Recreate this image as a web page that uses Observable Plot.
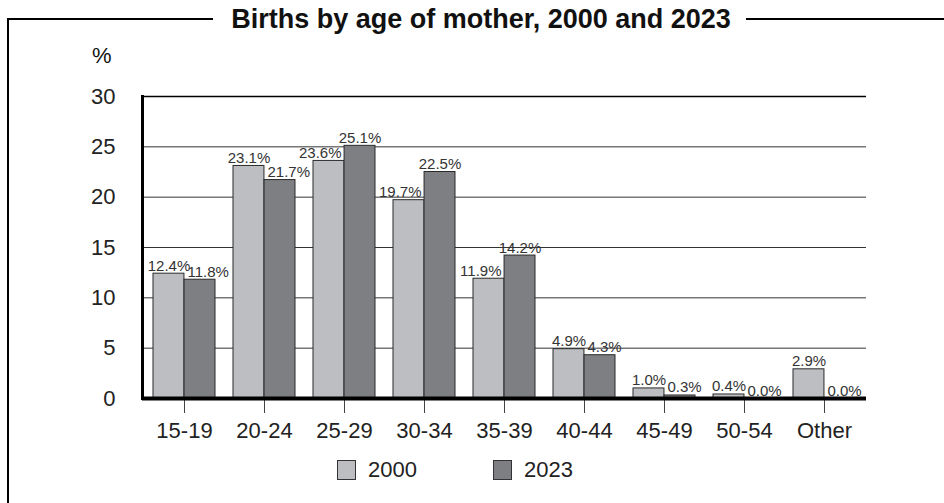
<!DOCTYPE html>
<html>
<head>
<meta charset="utf-8">
<script src="https://cdn.jsdelivr.net/npm/d3@7"></script>
<script src="https://cdn.jsdelivr.net/npm/@observablehq/plot@0.6"></script>
<style>
  html, body { margin: 0; padding: 0; background: #fff; }
  #wrap { position: relative; width: 944px; height: 503px; overflow: hidden; background: #fff;
          font-family: "Liberation Sans", Arial, Helvetica, sans-serif; color: #111; }
  .ln { position: absolute; background: #000; }
  #title { position: absolute; left: 0; width: 962px; top: 6px; text-align: center;
           font-size: 27px; font-weight: bold; line-height: 27px; white-space: nowrap; }
  #pct { position: absolute; left: 92px; top: 45px; font-size: 22px; line-height: 22px; color: #111; }
  #chart { position: absolute; left: 0; top: 0; }
  .leg { position: absolute; top: 460px; height: 20px; display: flex; align-items: center; font-size: 22px; color: #222; }
  .sw { width: 17px; height: 18px; border: 1px solid #333; margin-right: 12px; }
</style>
</head>
<body>
<div id="wrap">
  <div id="chart"></div>
  <div class="ln" style="left:7px; top:18px; width:2px; height:490px;"></div>
  <div class="ln" style="left:7px; top:18px; width:206px; height:2px;"></div>
  <div class="ln" style="left:746px; top:18px; width:200px; height:2px;"></div>
  <div id="title">Births by age of mother, 2000 and 2023</div>
  <div id="pct">%</div>
  <div class="leg" style="left:337px;"><div class="sw" id="sw0"></div><span id="lg0"></span></div>
  <div class="leg" style="left:493px;"><div class="sw" id="sw1"></div><span id="lg1"></span></div>
</div>
<script>
const ages = ["15-19", "20-24", "25-29", "30-34", "35-39", "40-44", "45-49", "50-54", "Other"];
const births2000 = [12.4, 23.1, 23.6, 19.7, 11.9, 4.9, 1.0, 0.4, 2.9];
const births2023 = [11.8, 21.7, 25.1, 22.5, 14.2, 4.3, 0.3, 0.0, 0.0];
const years = ["2000", "2023"];
const yTicks = [0, 5, 10, 15, 20, 25, 30];
const colors = ["#bdbec1", "#7e7f83"];

const W = 944, H = 503, mL = 142, mR = 78, mT = 96, mB = 105;
const pIn = 0.228, pOut = 0.114;
const step = (W - mL - mR) / (ages.length - pIn + 2 * pOut);
const bw = step * (1 - pIn);

const data = [];
ages.forEach((a, i) => {
  const v0 = births2000[i], v1 = births2023[i];
  const hi0 = v0 >= v1;
  data.push({age: a, year: years[0], value: v0, high: hi0});
  data.push({age: a, year: years[1], value: v1, high: !hi0});
});
const fmt = d => d.value.toFixed(1) + "%";
const d0 = data.filter(d => d.year === years[0]);
const d1 = data.filter(d => d.year === years[1]);
const labelOpts = {x: "age", y: "value", text: fmt, lineAnchor: "bottom", dy: -3, fontSize: 15, fill: "#333"};

const chart = Plot.plot({
  width: W, height: H,
  marginLeft: mL, marginRight: mR, marginTop: mT, marginBottom: mB,
  style: {fontFamily: '"Liberation Sans", Arial, Helvetica, sans-serif', background: "transparent", color: "#222"},
  x: {domain: ages, paddingInner: pIn, paddingOuter: pOut, label: null},
  y: {domain: [0, 30], label: null},
  marks: [
    Plot.gridY(yTicks.filter(t => t > 0 && t < 30), {stroke: "#333", strokeOpacity: 1, strokeWidth: 1}),
    Plot.gridY([30], {stroke: "#000", strokeOpacity: 1, strokeWidth: 1.3}),
    Plot.barY(d0, {x: "age", y: "value", fill: colors[0], stroke: "#2a2a2a", strokeWidth: 1, insetRight: bw / 2}),
    Plot.barY(d1, {x: "age", y: "value", fill: colors[1], stroke: "#2a2a2a", strokeWidth: 1, insetLeft: bw / 2}),
    Plot.text(d0.filter(d => d.high), {...labelOpts, dx: -bw / 4, textAnchor: "middle"}),
    Plot.text(d1.filter(d => d.high), {...labelOpts, dx: bw / 4, textAnchor: "middle"}),
    Plot.text(d0.filter(d => !d.high), {...labelOpts, dx: -3, textAnchor: "end"}),
    Plot.text(d1.filter(d => !d.high), {...labelOpts, dx: 3, textAnchor: "start"}),
    Plot.axisY({ticks: yTicks, tickSize: 0, tickPadding: 27, fontSize: 22, label: null, fill: "#222"}),
    Plot.axisX({tickSize: 15, tickPadding: 9, fontSize: 22, label: null, stroke: "#444", fill: "#222"}),
    Plot.ruleY([0], {stroke: "#000", strokeWidth: 4}),
    Plot.frame({anchor: "left", stroke: "#000", strokeWidth: 3})
  ]
});
document.getElementById("chart").appendChild(chart);
document.getElementById("sw0").style.background = colors[0];
document.getElementById("sw1").style.background = colors[1];
document.getElementById("lg0").textContent = years[0];
document.getElementById("lg1").textContent = years[1];
</script>
</body>
</html>
